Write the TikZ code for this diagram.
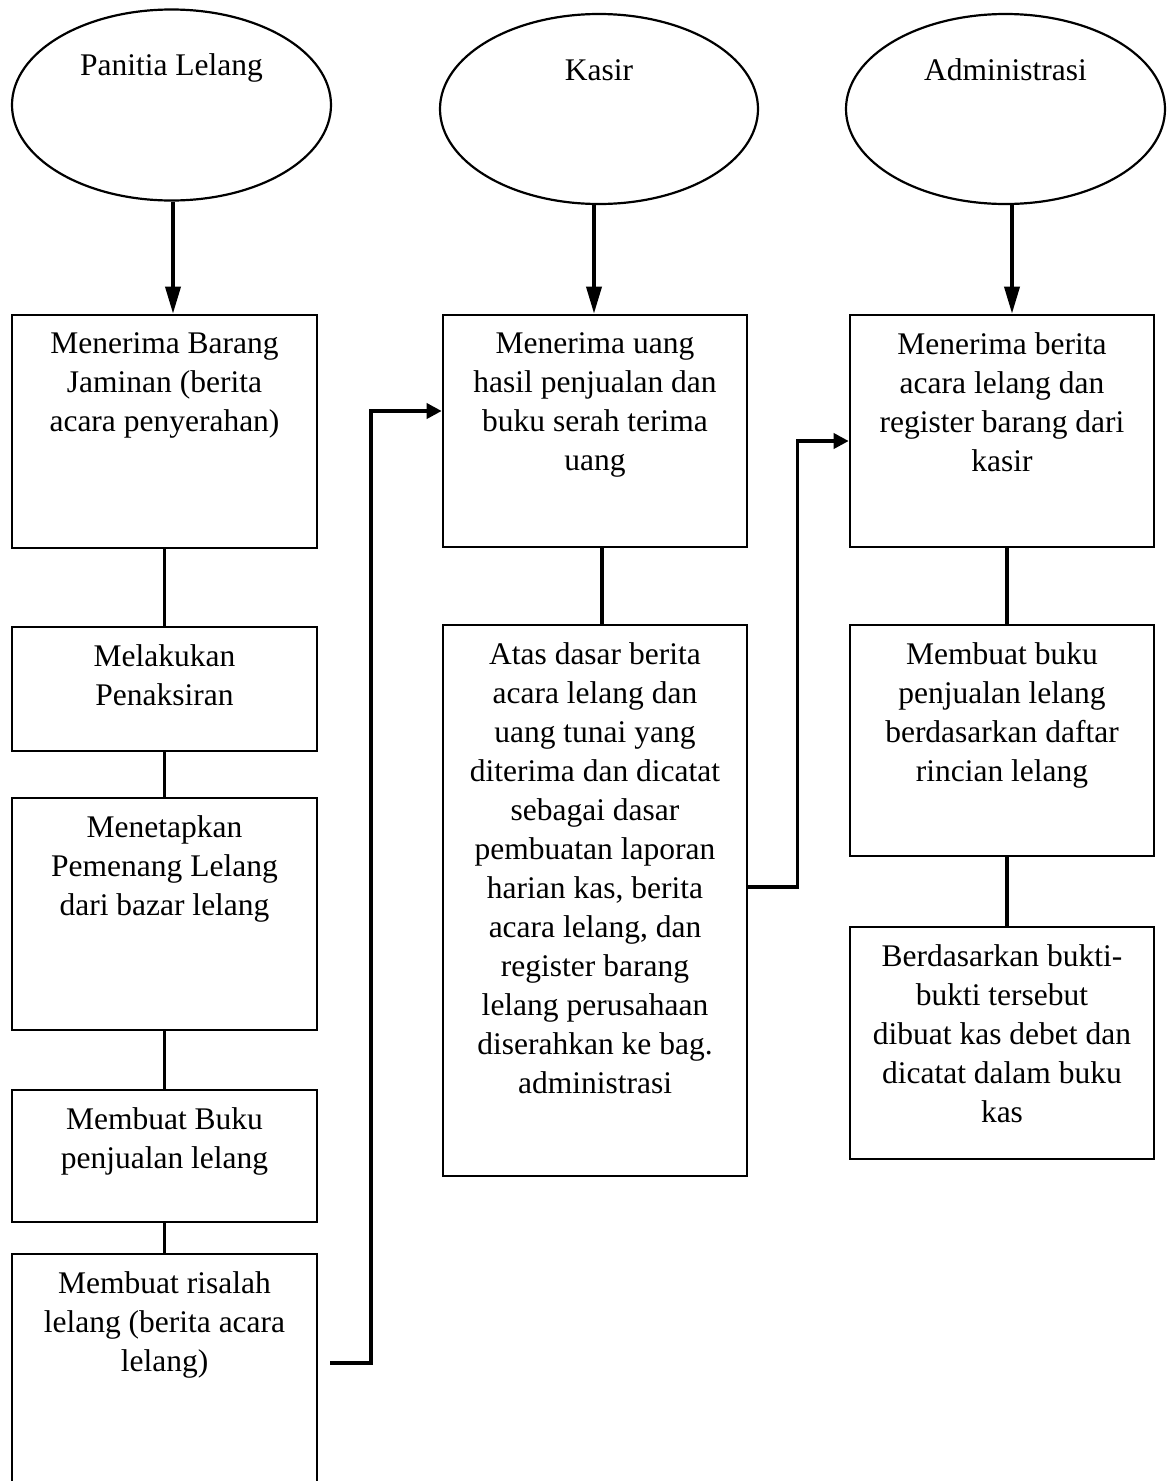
\documentclass[tikz,border=0pt]{standalone}
\usepackage{fontspec}
\setmainfont{Liberation Serif}
\usetikzlibrary{shapes.geometric,arrows.meta,calc}
\begin{document}
\begin{tikzpicture}[x=1pt,y=-1pt,
  lane/.style={ellipse,draw,line width=2.2pt,inner sep=0pt},
  stepbox/.style={rectangle,draw,line width=2.6pt,inner sep=0pt},
  txt/.style={anchor=north,align=center,inner sep=0pt,font=\fontsize{31.5}{39}\selectfont},
  ltxt/.style={anchor=base,inner sep=0pt,font=\fontsize{31.5}{39}\selectfont},
  conn/.style={line width=3.6pt},
  varr/.style={conn,-{Triangle[length=27pt,width=15pt]}},
  harr/.style={conn,-{Triangle[length=15pt,width=15pt]}}]
\useasboundingbox (0,0) rectangle (1173,1481);

% lane ellipses
\node[lane,minimum width=319pt,minimum height=191pt] (e1) at (171.5,105) {};
\node[lane,minimum width=318pt,minimum height=190pt] (e2) at (599,109) {};
\node[lane,minimum width=319pt,minimum height=190pt] (e3) at (1005.5,109) {};
\node[ltxt] (t1) at (171.5,75) {Panitia Lelang};
\node[ltxt] (t2) at (599,80) {Kasir};
\node[ltxt] (t3) at (1005.5,80) {Administrasi};

% column 1
\node[stepbox,minimum width=305pt,minimum height=233pt] (a) at (164.5,431.5) {};
\node[stepbox,minimum width=305pt,minimum height=124pt] (b) at (164.5,689) {};
\node[stepbox,minimum width=305pt,minimum height=232pt] (c) at (164.5,914) {};
\node[stepbox,minimum width=305pt,minimum height=132pt] (d) at (164.5,1156) {};
\node[stepbox,minimum width=305pt,minimum height=250pt] (e) at (164.5,1379) {};

% column 2
\node[stepbox,minimum width=304pt,minimum height=232pt] (f) at (595,431) {};
\node[stepbox,minimum width=304pt,minimum height=551pt] (g) at (595,900.5) {};

% column 3
\node[stepbox,minimum width=304pt,minimum height=232pt] (h) at (1002,431) {};
\node[stepbox,minimum width=304pt,minimum height=231pt] (i) at (1002,740.5) {};
\node[stepbox,minimum width=304pt,minimum height=232pt] (j) at (1002,1043) {};

% texts
\node[txt] (ta) at ($(a.north)+(0,19)$) {Menerima Barang\\Jaminan (berita\\acara penyerahan)};
\node[txt] (tb) at ($(b.north)+(0,19)$) {Melakukan\\Penaksiran};
\node[txt] (tc) at ($(c.north)+(0,19)$) {Menetapkan\\Pemenang Lelang\\dari bazar lelang};
\node[txt] (td) at ($(d.north)+(0,19)$) {Membuat Buku\\penjualan lelang};
\node[txt] (te) at ($(e.north)+(0,19)$) {Membuat risalah\\lelang (berita acara\\lelang)};
\node[txt] (tf) at ($(f.north)+(0,19)$) {Menerima uang\\hasil penjualan dan\\buku serah terima\\uang};
\node[txt] (tg) at ($(g.north)+(0,19)$) {Atas dasar berita\\acara lelang dan\\uang tunai yang\\diterima dan dicatat\\sebagai dasar\\pembuatan laporan\\harian kas, berita\\acara lelang, dan\\register barang\\lelang perusahaan\\diserahkan ke bag.\\administrasi};
\node[txt] (th) at ($(h.north)+(0,19)$) {Menerima berita\\acara lelang dan\\register barang dari\\kasir};
\node[txt] (ti) at ($(i.north)+(0,19)$) {Membuat buku\\penjualan lelang\\berdasarkan daftar\\rincian lelang};
\node[txt] (tj) at ($(j.north)+(0,19)$) {Berdasarkan bukti-\\bukti tersebut\\dibuat kas debet dan\\dicatat dalam buku\\kas};

% arrows from lanes
\coordinate (s1) at ($(e1.south)+(1.5,0)$);
\coordinate (s2) at ($(e2.south)+(-5,0)$);
\coordinate (s3) at ($(e3.south)+(6.5,0)$);
\draw[varr] (s1) -- (s1 |- a.north);
\draw[varr] (s2) -- (s2 |- f.north);
\draw[varr] (s3) -- (s3 |- h.north);

% column links
\draw[conn] (a.south) -- (b.north);
\draw[conn] (b.south) -- (c.north);
\draw[conn] (c.south) -- (d.north);
\draw[conn] (d.south) -- (e.north);
\draw[conn] ([xshift=7pt]f.south) -- ([xshift=7pt]g.north);
\draw[conn] ([xshift=5pt]h.south) -- ([xshift=5pt]i.north);
\draw[conn] ([xshift=5pt]i.south) -- ([xshift=5pt]j.north);

% cross links
\coordinate (c1) at (330,1363);
\draw[harr] (c1) -- ++(41,0) |- ([yshift=20pt]f.west);
\draw[harr] ([yshift=13.5pt]g.east) -- ++(49,0) |- ([yshift=-10pt]h.west);
\end{tikzpicture}
\end{document}
